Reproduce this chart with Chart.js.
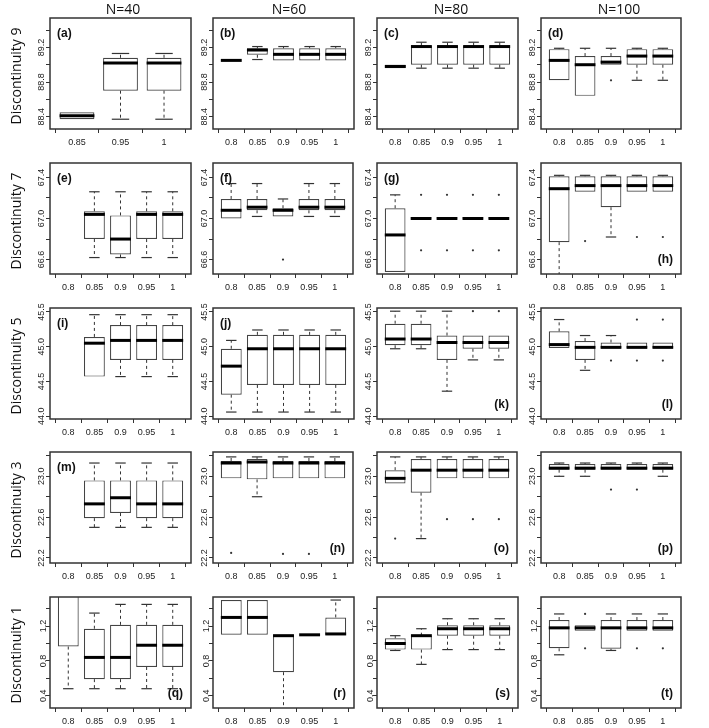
<!DOCTYPE html>
<html>
<head>
<meta charset="utf-8">
<script src="https://cdn.jsdelivr.net/npm/chart.js@4.4.1/dist/chart.umd.min.js"></script>
<style>
  body { margin: 0; background: #fff; width: 709px; height: 728px; position: relative; overflow: hidden; font-family: "Open Sans", sans-serif; }
  canvas.panel { position: absolute; }
  .colhead { position: absolute; font-size: 14px; color: #111; transform: translate(-50%, -50%); white-space: nowrap; }
  .rowhead { position: absolute; font-size: 14px; color: #111; transform: translate(-50%, -50%) rotate(-90deg); white-space: nowrap; }
</style>
</head>
<body>
<script>
// titles and tick labels
const colTitles = ['N=40', 'N=60', 'N=80', 'N=100'];
const rowTitles = ['Discontinuity 9', 'Discontinuity 7', 'Discontinuity 5', 'Discontinuity 3', 'Discontinuity 1'];
const xLabels = ['0.8', '0.85', '0.9', '0.95', '1'];
const xLabelsA = ['0.85', '0.95', '1'];

// y axis per row: limits, tick values, tick labels
const yRangeD9 = [88.257, 89.54];
const yTicksD9 = [88.4, 88.6, 88.8, 89.0, 89.2, 89.4];
const yLabelsD9 = ['88.4', '', '88.8', '', '89.2', ''];
const yRangeD7 = [66.46, 67.54];
const yTicksD7 = [66.6, 66.8, 67.0, 67.2, 67.4];
const yLabelsD7 = ['66.6', '', '67.0', '', '67.4'];
const yRangeD5 = [43.96, 45.556];
const yTicksD5 = [44.0, 44.5, 45.0, 45.5];
const yLabelsD5 = ['44.0', '44.5', '45.0', '45.5'];
const yRangeD3 = [22.151, 23.238];
const yTicksD3 = [22.2, 22.4, 22.6, 22.8, 23.0, 23.2];
const yLabelsD3 = ['22.2', '', '22.6', '', '23.0', ''];
const yRangeD1 = [0.258, 1.535];
const yTicksD1 = [0.4, 0.6, 0.8, 1.0, 1.2, 1.4];
const yLabelsD1 = ['0.4', '', '0.8', '', '1.2', ''];

// box summaries: [lower whisker, q1, median, q3, upper whisker], null = no box
const boxA = [[88.37, 88.37, 88.41, 88.45, 88.45], [88.37, 88.70, 89.02, 89.08, 89.13], [88.37, 88.70, 89.02, 89.08, 89.13]];
const boxB = [[89.05, 89.05, 89.05, 89.05, 89.05], [89.06, 89.115, 89.17, 89.19, 89.21], [89.05, 89.05, 89.12, 89.19, 89.21], [89.05, 89.05, 89.12, 89.19, 89.21], [89.05, 89.05, 89.12, 89.19, 89.21]];
const boxC = [[88.96, 88.96, 88.98, 89.00, 89.00], [88.96, 89.00, 89.21, 89.22, 89.26], [88.96, 89.00, 89.21, 89.22, 89.26], [88.96, 89.00, 89.21, 89.22, 89.26], [88.96, 89.00, 89.21, 89.22, 89.26]];
const boxD = [[88.82, 88.82, 89.05, 89.18, 89.19], [88.64, 88.64, 89.00, 89.10, 89.19], [89.00, 89.00, 89.03, 89.10, 89.19], [88.82, 89.00, 89.10, 89.18, 89.19], [88.82, 89.00, 89.10, 89.18, 89.19]];
const boxE = [null, [66.62, 66.80, 67.04, 67.07, 67.26], [66.62, 66.65, 66.80, 67.03, 67.26], [66.62, 66.80, 67.04, 67.07, 67.26], [66.62, 66.80, 67.04, 67.07, 67.26]];
const boxF = [[67.00, 67.00, 67.08, 67.19, 67.34], [67.02, 67.08, 67.11, 67.19, 67.34], [67.02, 67.02, 67.08, 67.10, 67.19], [67.02, 67.08, 67.11, 67.19, 67.34], [67.02, 67.08, 67.11, 67.19, 67.34]];
const boxG = [[66.48, 66.48, 66.84, 67.10, 67.23], [66.99, 66.99, 67.00, 67.015, 67.015], [66.99, 66.99, 67.00, 67.015, 67.015], [66.99, 66.99, 67.00, 67.015, 67.015], [66.99, 66.99, 67.00, 67.015, 67.015]];
const boxH = [[66.40, 66.77, 67.29, 67.41, 67.42], [67.26, 67.26, 67.32, 67.41, 67.42], [66.82, 67.11, 67.32, 67.41, 67.42], [67.26, 67.26, 67.32, 67.41, 67.42], [67.26, 67.26, 67.32, 67.41, 67.42]];
const boxI = [null, [44.57, 44.57, 45.05, 45.14, 45.46], [44.57, 44.81, 45.09, 45.31, 45.46], [44.57, 44.81, 45.09, 45.31, 45.46], [44.57, 44.81, 45.09, 45.31, 45.46]];
const boxJ = [[44.06, 44.31, 44.72, 44.97, 45.09], [44.06, 44.45, 44.97, 45.17, 45.24], [44.06, 44.45, 44.97, 45.17, 45.24], [44.06, 44.45, 44.97, 45.17, 45.24], [44.06, 44.45, 44.97, 45.17, 45.24]];
const boxK = [[44.97, 45.02, 45.11, 45.33, 45.51], [44.97, 45.02, 45.11, 45.33, 45.51], [44.36, 44.81, 45.06, 45.16, 45.51], [44.81, 44.97, 45.06, 45.16, 45.16], [44.81, 44.97, 45.06, 45.16, 45.16]];
const boxL = [[44.98, 44.98, 45.03, 45.22, 45.39], [44.66, 44.81, 44.99, 45.08, 45.16], [44.98, 44.98, 44.99, 45.06, 45.16], [44.98, 44.98, 44.99, 45.06, 45.06], [44.98, 44.98, 44.99, 45.06, 45.06]];
const boxM = [null, [22.50, 22.59, 22.73, 22.96, 23.13], [22.50, 22.64, 22.79, 22.96, 23.13], [22.50, 22.59, 22.73, 22.96, 23.13], [22.50, 22.59, 22.73, 22.96, 23.13]];
const boxN = [[22.98, 22.98, 23.13, 23.15, 23.19], [22.80, 22.97, 23.14, 23.17, 23.19], [22.98, 22.98, 23.13, 23.15, 23.19], [22.98, 22.98, 23.13, 23.15, 23.19], [22.98, 22.98, 23.13, 23.15, 23.19]];
const boxO = [[22.93, 22.93, 22.98, 23.06, 23.19], [22.39, 22.84, 23.06, 23.17, 23.19], [22.98, 22.98, 23.06, 23.17, 23.19], [22.98, 22.98, 23.06, 23.17, 23.19], [22.98, 22.98, 23.06, 23.17, 23.19]];
const boxP = [[23.00, 23.065, 23.08, 23.12, 23.13], [23.00, 23.065, 23.08, 23.12, 23.13], [23.065, 23.065, 23.08, 23.12, 23.13], [23.065, 23.065, 23.08, 23.12, 23.13], [23.00, 23.065, 23.08, 23.12, 23.13]];
const boxQ = [[0.48, 0.965, 1.62, 1.70, 1.80], [0.48, 0.59, 0.84, 1.17, 1.35], [0.48, 0.59, 0.84, 1.215, 1.45], [0.48, 0.73, 0.98, 1.215, 1.45], [0.48, 0.73, 0.98, 1.215, 1.45]];
const boxR = [[1.10, 1.10, 1.30, 1.50, 1.50], [1.10, 1.10, 1.30, 1.50, 1.50], [0.20, 0.67, 1.09, 1.10, 1.10], [1.10, 1.10, 1.10, 1.10, 1.10], [1.10, 1.10, 1.11, 1.30, 1.50]];
const boxS = [[0.92, 0.93, 1.00, 1.06, 1.09], [0.76, 0.93, 1.09, 1.09, 1.17], [0.93, 1.09, 1.17, 1.21, 1.285], [0.93, 1.09, 1.17, 1.21, 1.285], [0.93, 1.09, 1.17, 1.21, 1.285]];
const boxT = [[0.87, 0.945, 1.18, 1.27, 1.34], [1.146, 1.146, 1.18, 1.21, 1.21], [0.92, 0.94, 1.18, 1.27, 1.34], [1.146, 1.146, 1.18, 1.27, 1.34], [1.146, 1.146, 1.18, 1.27, 1.34]];

// outliers: [category, value]
const outD = [['0.9', 88.82]];
const outF = [['0.9', 66.60]];
const outG = [['0.85', 67.23], ['0.85', 66.69], ['0.9', 67.23], ['0.9', 66.69], ['0.95', 67.23], ['0.95', 66.69], ['1', 67.23], ['1', 66.69]];
const outH = [['0.85', 66.78], ['0.95', 66.82], ['1', 66.82]];
const outK = [['0.95', 45.51], ['1', 45.51]];
const outL = [['0.9', 44.80], ['0.95', 45.39], ['0.95', 44.80], ['1', 45.39], ['1', 44.80]];
const outN = [['0.8', 22.25], ['0.9', 22.24], ['0.95', 22.24], ['1', 22.24]];
const outO = [['0.8', 22.39], ['0.9', 22.58], ['0.95', 22.58], ['1', 22.58]];
const outP = [['0.9', 22.87], ['0.95', 22.87]];
const outT = [['0.85', 1.34], ['0.85', 0.945], ['0.95', 0.945], ['1', 0.945]];

// page layout
const colLeft = [50, 213, 377, 541];
const colHeadX = [123, 289, 451, 619];
const rowTop = [18, 163, 308, 452, 597];
const panelW = 141, panelH = 111;
const axisW = 34, axisH = 24, padTop = 10, padRight = 3;

const rowAxes = [
  [yRangeD9, yTicksD9, yLabelsD9],
  [yRangeD7, yTicksD7, yLabelsD7],
  [yRangeD5, yTicksD5, yLabelsD5],
  [yRangeD3, yTicksD3, yLabelsD3],
  [yRangeD1, yTicksD1, yLabelsD1]
];

const panels = [
  ['a', boxA, [], xLabelsA, 'tl'], ['b', boxB, [], xLabels, 'tl'], ['c', boxC, [], xLabels, 'tl'], ['d', boxD, outD, xLabels, 'tl'],
  ['e', boxE, [], xLabels, 'tl'], ['f', boxF, outF, xLabels, 'tl'], ['g', boxG, outG, xLabels, 'tl'], ['h', boxH, outH, xLabels, 'br'],
  ['i', boxI, [], xLabels, 'tl'], ['j', boxJ, [], xLabels, 'tl'], ['k', boxK, outK, xLabels, 'br'], ['l', boxL, outL, xLabels, 'br'],
  ['m', boxM, [], xLabels, 'tl'], ['n', boxN, outN, xLabels, 'br'], ['o', boxO, outO, xLabels, 'br'], ['p', boxP, outP, xLabels, 'br'],
  ['q', boxQ, [], xLabels, 'br'], ['r', boxR, [], xLabels, 'br'], ['s', boxS, [], xLabels, 'br'], ['t', boxT, outT, xLabels, 'br']
];

const ink = '#333';

// whiskers, caps, medians, frame and panel letter
const makeBoxPlugin = (boxes, letter, corner) => ({
  id: 'rbox',
  afterDatasetsDraw(chart) {
    const { ctx, chartArea: ca, scales: { y } } = chart;
    const meta = chart.getDatasetMeta(0);
    ctx.save();
    ctx.beginPath();
    ctx.rect(ca.left, ca.top, ca.right - ca.left, ca.bottom - ca.top);
    ctx.clip();
    boxes.forEach((b, k) => {
      const bar = meta.data[k];
      const cx = bar.x, hw = bar.width / 2;
      const [mn, q1, md, q3, mx] = b;
      ctx.strokeStyle = ink;
      ctx.lineWidth = 1;
      ctx.setLineDash([3, 3]);
      if (mx > q3) {
        ctx.beginPath(); ctx.moveTo(cx, y.getPixelForValue(q3)); ctx.lineTo(cx, y.getPixelForValue(mx)); ctx.stroke();
      }
      if (mn < q1) {
        ctx.beginPath(); ctx.moveTo(cx, y.getPixelForValue(q1)); ctx.lineTo(cx, y.getPixelForValue(mn)); ctx.stroke();
      }
      ctx.setLineDash([]);
      ctx.lineWidth = 1.2;
      if (mx > q3) {
        const py = y.getPixelForValue(mx);
        ctx.beginPath(); ctx.moveTo(cx - hw / 2, py); ctx.lineTo(cx + hw / 2, py); ctx.stroke();
      }
      if (mn < q1) {
        const py = y.getPixelForValue(mn);
        ctx.beginPath(); ctx.moveTo(cx - hw / 2, py); ctx.lineTo(cx + hw / 2, py); ctx.stroke();
      }
      ctx.strokeStyle = '#000';
      ctx.lineWidth = 3;
      const pm = y.getPixelForValue(md);
      ctx.beginPath(); ctx.moveTo(cx - hw, pm); ctx.lineTo(cx + hw, pm); ctx.stroke();
    });
    ctx.restore();
  },
  afterDraw(chart) {
    const { ctx, chartArea: ca } = chart;
    ctx.save();
    ctx.strokeStyle = ink;
    ctx.lineWidth = 1.5;
    ctx.strokeRect(ca.left, ca.top, ca.right - ca.left, ca.bottom - ca.top);
    ctx.fillStyle = '#111';
    ctx.font = 'bold 12px Arial';
    ctx.textBaseline = 'middle';
    const text = '(' + letter + ')';
    if (corner === 'tl') {
      ctx.textAlign = 'left';
      ctx.fillText(text, ca.left + 7, ca.top + 16);
    } else {
      ctx.textAlign = 'right';
      ctx.fillText(text, ca.right - 8, ca.bottom - 14);
    }
    ctx.restore();
  }
});

const tickFont = { family: 'Arial', size: 9 };

panels.forEach((p, idx) => {
  const [letter, box, out, labels, corner] = p;
  const row = Math.floor(idx / 4), col = idx % 4;
  const [yRange, yTicks, yLabels] = rowAxes[row];
  const n = labels.length;

  const canvas = document.createElement('canvas');
  canvas.className = 'panel';
  canvas.width = axisW + panelW + padRight;
  canvas.height = padTop + panelH + axisH;
  canvas.style.left = (colLeft[col] - axisW) + 'px';
  canvas.style.top = (rowTop[row] - padTop) + 'px';
  document.body.appendChild(canvas);

  const shown = [];
  const barData = [];
  box.forEach((b, i) => {
    if (!b) return;
    shown.push(b);
    barData.push({ x: i + 1, y: [b[1], b[3]] });
  });
  const outData = out.map(([lab, v]) => ({ x: labels.indexOf(lab) + 1, y: v }));

  new Chart(canvas.getContext('2d'), {
    type: 'bar',
    data: {
      datasets: [
        {
          type: 'bar',
          data: barData,
          backgroundColor: '#fff',
          borderColor: '#444',
          borderWidth: 1.2,
          borderSkipped: false,
          barPercentage: 0.8,
          categoryPercentage: 1
        },
        {
          type: 'scatter',
          data: outData,
          pointRadius: 1.1,
          pointBackgroundColor: ink,
          pointBorderWidth: 0
        }
      ]
    },
    options: {
      responsive: false,
      animation: false,
      devicePixelRatio: 1,
      layout: { padding: { top: padTop, right: padRight, left: 0, bottom: 0 } },
      plugins: { legend: { display: false }, tooltip: { enabled: false } },
      scales: {
        x: {
          type: 'linear',
          offset: false,
          min: 0.5 - 0.04 * n,
          max: n + 0.5 + 0.04 * n,
          afterBuildTicks: s => { s.ticks = labels.map((_, i) => ({ value: i + 1 })); },
          afterFit: s => { s.height = axisH; },
          grid: { display: true, drawOnChartArea: false, drawTicks: true, tickLength: 4, color: ink },
          border: { display: false },
          ticks: {
            autoSkip: false, maxRotation: 0, minRotation: 0, padding: 4,
            font: tickFont, color: '#222',
            callback: v => labels[Math.round(v) - 1]
          }
        },
        y: {
          min: yRange[0],
          max: yRange[1],
          afterBuildTicks: s => { s.ticks = yTicks.map(v => ({ value: v })); },
          afterFit: s => { s.width = axisW; },
          grid: { display: true, drawOnChartArea: false, drawTicks: true, tickLength: 4, color: ink },
          border: { display: false },
          ticks: {
            autoSkip: false, minRotation: 90, maxRotation: 90, crossAlign: 'center', padding: -4,
            font: tickFont, color: '#222',
            callback: (v, i) => yLabels[i]
          }
        }
      }
    },
    plugins: [makeBoxPlugin(shown, letter, corner)]
  });
});

// column and row headings
colTitles.forEach((t, c) => {
  const d = document.createElement('div');
  d.className = 'colhead';
  d.textContent = t;
  d.style.left = colHeadX[c] + 'px';
  d.style.top = '8px';
  document.body.appendChild(d);
});
rowTitles.forEach((t, r) => {
  const d = document.createElement('div');
  d.className = 'rowhead';
  d.textContent = t;
  d.style.left = '15px';
  d.style.top = (rowTop[r] + panelH / 2 + 2) + 'px';
  document.body.appendChild(d);
});
</script>
</body>
</html>
